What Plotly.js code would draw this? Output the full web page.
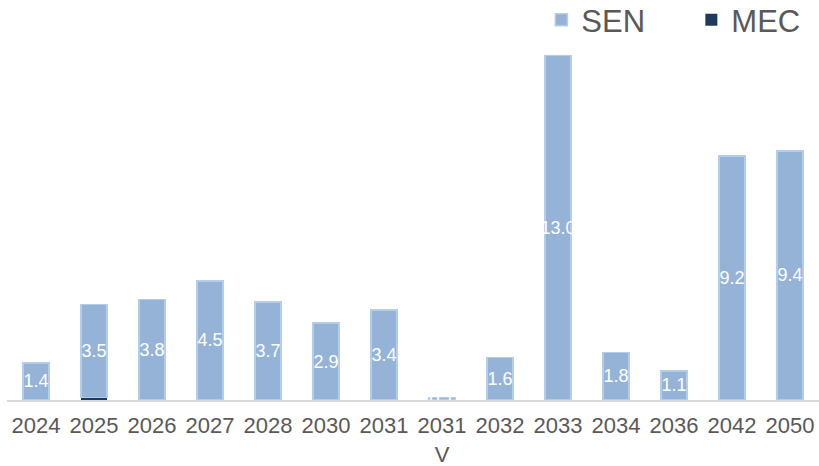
<!DOCTYPE html>
<html>
<head>
<meta charset="utf-8">
<script src="https://cdn.plot.ly/plotly-3.0.1.min.js"></script>
<style>html,body{margin:0;padding:0;background:#fff;}#chart{width:819px;height:466px;}</style>
</head>
<body>
<div id="chart"></div>
<script>
const categories = ["2024","2025","2026","2027","2028","2030","2031","2031<br>V","2032","2033","2034","2036","2042","2050"];
const senValues = [1.4, 3.5, 3.8, 4.5, 3.7, 2.9, 3.4, 0.1, 1.6, 13.0, 1.8, 1.1, 9.2, 9.4];
const mecValues = [0, 0.1, 0, 0, 0, 0, 0, 0, 0, 0, 0, 0, 0, 0];

const mec = {
  type: 'bar', name: 'MEC', x: categories, y: mecValues,
  marker: {color: '#1f3a5f', line: {color: '#1f3a5f', width: 0}},
  hoverinfo: 'skip'
};
const sen = {
  type: 'bar', name: 'SEN', x: categories, y: senValues,
  text: senValues.map(v => v.toFixed(1)),
  textposition: 'inside', insidetextanchor: 'middle', textangle: 0,
  textfont: {color: '#ffffff', size: 18, family: 'Liberation Sans, Arial, sans-serif'},
  constraintext: 'none',
  marker: {color: '#95b3d7', line: {color: '#b3cdec', width: 1.5}}
};

const layout = {
  width: 819, height: 466,
  margin: {l: 7, r: 0, t: 29, b: 66, autoexpand: false},
  barmode: 'stack', bargap: 0.56,
  paper_bgcolor: '#ffffff', plot_bgcolor: '#ffffff',
  font: {family: 'Liberation Sans, Arial, sans-serif', color: '#595959'},
  showlegend: true,
  legend: {orientation: 'h', traceorder: 'reversed', x: 0.661, xref: 'container', xanchor: 'left',
           y: 0.957, yref: 'container', yanchor: 'middle',
           entrywidth: 105, entrywidthmode: 'pixels',
           font: {size: 31, color: '#595959'}, bgcolor: 'rgba(0,0,0,0)'},
  xaxis: {type: 'category', showline: true, linecolor: '#d9d9d9', linewidth: 1.5, ticks: '',
          ticklabelstandoff: 5,
          tickfont: {size: 22, color: '#595959'}, showgrid: false, zeroline: false},
  yaxis: {range: [0, 14], visible: false, showgrid: false, zeroline: false}
};

Plotly.newPlot('chart', [mec, sen], layout, {displayModeBar: false, staticPlot: true});
</script>
</body>
</html>
